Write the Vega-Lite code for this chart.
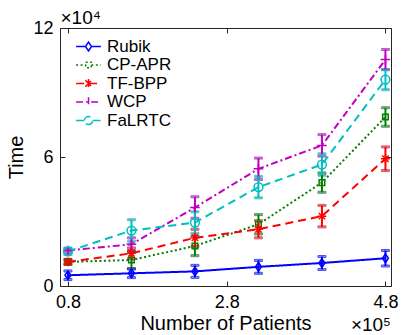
{
  "$schema": "https://vega.github.io/schema/vega-lite/v6.json",
  "width": 331,
  "height": 258,
  "autosize": {"type": "none"},
  "padding": {"left": 60, "top": 28, "right": 14, "bottom": 49},
  "background": "white",
  "config": {
    "font": "Liberation Sans",
    "view": {"stroke": null},
    "axis": {
      "domainColor": "#262626", "tickColor": "#262626", "labelColor": "black", "titleColor": "black",
      "labelFont": "Liberation Sans", "titleFont": "Liberation Sans",
      "labelFontSize": 18, "titleFontSize": 20, "titleFontWeight": "normal",
      "tickSize": -5, "grid": false, "domainWidth": 1, "tickWidth": 1, "labelPadding": 12
    }
  },
  "title": {"text": "×10⁵", "orient": "bottom", "anchor": "end", "frame": "group", "fontSize": 19, "fontWeight": "normal", "color": "black", "offset": -17},
  "data": {"values": [
    {"series": "Rubik", "x": 0.8, "y": 0.50, "lo": 0.30, "hi": 0.70},
    {"series": "Rubik", "x": 1.6, "y": 0.59, "lo": 0.39, "hi": 0.79},
    {"series": "Rubik", "x": 2.4, "y": 0.68, "lo": 0.40, "hi": 0.96},
    {"series": "Rubik", "x": 3.2, "y": 0.89, "lo": 0.59, "hi": 1.19},
    {"series": "Rubik", "x": 4.0, "y": 1.07, "lo": 0.77, "hi": 1.37},
    {"series": "Rubik", "x": 4.8, "y": 1.29, "lo": 0.93, "hi": 1.65},
    {"series": "CP-APR", "x": 0.8, "y": 1.12, "lo": 1.02, "hi": 1.22},
    {"series": "CP-APR", "x": 1.6, "y": 1.21, "lo": 0.81, "hi": 1.61},
    {"series": "CP-APR", "x": 2.4, "y": 1.86, "lo": 1.41, "hi": 2.31},
    {"series": "CP-APR", "x": 3.2, "y": 2.87, "lo": 2.42, "hi": 3.32},
    {"series": "CP-APR", "x": 4.0, "y": 4.81, "lo": 4.36, "hi": 5.26},
    {"series": "CP-APR", "x": 4.8, "y": 7.86, "lo": 7.43, "hi": 8.29},
    {"series": "TF-BPP", "x": 0.8, "y": 1.12, "lo": 1.00, "hi": 1.24},
    {"series": "TF-BPP", "x": 1.6, "y": 1.52, "lo": 1.27, "hi": 1.77},
    {"series": "TF-BPP", "x": 2.4, "y": 2.24, "lo": 1.84, "hi": 2.64},
    {"series": "TF-BPP", "x": 3.2, "y": 2.64, "lo": 2.24, "hi": 3.04},
    {"series": "TF-BPP", "x": 4.0, "y": 3.25, "lo": 2.75, "hi": 3.75},
    {"series": "TF-BPP", "x": 4.8, "y": 5.92, "lo": 5.37, "hi": 6.47},
    {"series": "WCP", "x": 0.8, "y": 1.65, "lo": 1.55, "hi": 1.75},
    {"series": "WCP", "x": 1.6, "y": 1.94, "lo": 1.64, "hi": 2.24},
    {"series": "WCP", "x": 2.4, "y": 3.65, "lo": 3.15, "hi": 4.15},
    {"series": "WCP", "x": 3.2, "y": 5.45, "lo": 4.95, "hi": 5.95},
    {"series": "WCP", "x": 4.0, "y": 6.54, "lo": 6.04, "hi": 7.04},
    {"series": "WCP", "x": 4.8, "y": 10.53, "lo": 10.06, "hi": 11.00},
    {"series": "FaLRTC", "x": 0.8, "y": 1.61, "lo": 1.46, "hi": 1.76},
    {"series": "FaLRTC", "x": 1.6, "y": 2.58, "lo": 2.08, "hi": 3.08},
    {"series": "FaLRTC", "x": 2.4, "y": 2.95, "lo": 2.45, "hi": 3.45},
    {"series": "FaLRTC", "x": 3.2, "y": 4.60, "lo": 4.10, "hi": 5.10},
    {"series": "FaLRTC", "x": 4.0, "y": 5.65, "lo": 5.15, "hi": 6.15},
    {"series": "FaLRTC", "x": 4.8, "y": 9.60, "lo": 9.13, "hi": 10.07}
  ]},
  "layer": [
    {
      "mark": {"type": "line", "strokeWidth": 2},
      "encoding": {
        "x": {"field": "x", "type": "quantitative", "scale": {"domain": [0.7, 4.87], "nice": false, "zero": false},
              "axis": {"orient": "bottom", "values": [0.8, 2.8, 4.8], "format": ".1f", "title": "Number of Patients", "titlePadding": 2}},
        "y": {"field": "y", "type": "quantitative", "scale": {"domain": [0, 12], "nice": false},
              "axis": {"orient": "left", "values": [0, 6, 12], "title": "Time", "titlePadding": 6}},
        "color": {"field": "series", "type": "nominal",
                  "scale": {"domain": ["Rubik", "CP-APR", "TF-BPP", "WCP", "FaLRTC"], "range": ["#0000ff", "#008000", "#ff0000", "#bf00bf", "#00bfbf"]},
                  "legend": {
                    "orient": "none", "legendX": 20, "legendY": 10, "title": null,
                    "labelFontSize": 17, "labelColor": "black", "labelFont": "Liberation Sans",
                    "symbolSize": 64, "labelOffset": 10, "rowPadding": 0.5, "padding": 0,
                    "symbolStrokeWidth": 1.5,
                    "encode": {"symbols": {"update": {
                      "shape": {"signal": "datum.value === 'Rubik' ? 'M-3.1,0L-0.75,0M0.75,0L3.1,0M0,-1.1L0.75,0L0,1.1L-0.75,0Z' : datum.value === 'CP-APR' ? 'M-3.1,0L-0.7,0M0.7,0L3.1,0M-0.7,-0.7L0.7,-0.7L0.7,0.7L-0.7,0.7Z' : datum.value === 'TF-BPP' ? 'M-3.1,0L3.1,0M0,-1.1L0,1.1M-0.8,-0.8L0.8,0.8M-0.8,0.8L0.8,-0.8' : datum.value === 'WCP' ? 'M-3.1,0L3.1,0M0,-1.2L0,1.2' : 'M-3.1,0L-1,0M1,0L3.1,0M-1,0A1,1,0,1,1,1,0A1,1,0,1,1,-1,0'"},
                      "strokeDash": {"signal": "datum.value === 'CP-APR' ? [1.5, 2] : datum.value === 'TF-BPP' ? [6, 3] : datum.value === 'WCP' ? [6, 2, 1.5, 2] : datum.value === 'FaLRTC' ? [6, 3] : [1, 0]"},
                      "fill": {"value": "transparent"},
                      "stroke": {"scale": "color", "field": "value"},
                      "strokeWidth": {"value": 1.5},
                      "opacity": {"value": 1}
                    }}}
                  }},
        "strokeDash": {"field": "series", "type": "nominal",
                       "scale": {"domain": ["Rubik", "CP-APR", "TF-BPP", "WCP", "FaLRTC"], "range": [[1, 0], [2, 2.5], [8, 5], [7, 3, 2, 3], [8, 5]]},
                       "legend": null}
      }
    },
    {
      "mark": {"type": "errorbar", "ticks": {"size": 8}, "thickness": 2},
      "encoding": {
        "x": {"field": "x", "type": "quantitative",
              "axis": {"orient": "top", "values": [0.8, 2.8, 4.8], "labels": false, "title": "×10⁴", "titleAnchor": "start", "titleAlign": "left", "titlePadding": 0, "titleFontSize": 19}},
        "y": {"field": "lo", "type": "quantitative",
              "axis": {"orient": "right", "values": [0, 6, 12], "labels": false, "title": null}},
        "y2": {"field": "hi"},
        "stroke": {"field": "series", "type": "nominal",
                   "scale": {"domain": ["Rubik", "CP-APR", "TF-BPP", "WCP", "FaLRTC"], "range": ["#0000ff", "#008000", "#ff0000", "#bf00bf", "#00bfbf"]},
                   "legend": null}
      }
    },
    {
      "transform": [{"filter": "datum.series === 'Rubik'"}],
      "mark": {"type": "point", "filled": false, "strokeWidth": 1.5, "size": 64, "opacity": 1, "shape": "M0,-1.1L0.75,0L0,1.1L-0.75,0Z"},
      "encoding": {
        "x": {"field": "x", "type": "quantitative", "axis": null},
        "y": {"field": "y", "type": "quantitative", "axis": null},
        "stroke": {"field": "series", "type": "nominal", "legend": null}
      }
    },
    {
      "transform": [{"filter": "datum.series === 'CP-APR'"}],
      "mark": {"type": "point", "filled": false, "strokeWidth": 1.5, "size": 64, "opacity": 1, "shape": "M-0.7,-0.7L0.7,-0.7L0.7,0.7L-0.7,0.7Z"},
      "encoding": {
        "x": {"field": "x", "type": "quantitative", "axis": null},
        "y": {"field": "y", "type": "quantitative", "axis": null},
        "stroke": {"field": "series", "type": "nominal", "legend": null}
      }
    },
    {
      "transform": [{"filter": "datum.series === 'TF-BPP'"}],
      "mark": {"type": "point", "filled": false, "strokeWidth": 1.5, "size": 64, "opacity": 1, "shape": "M-1.1,0L1.1,0M0,-1.1L0,1.1M-0.8,-0.8L0.8,0.8M-0.8,0.8L0.8,-0.8"},
      "encoding": {
        "x": {"field": "x", "type": "quantitative", "axis": null},
        "y": {"field": "y", "type": "quantitative", "axis": null},
        "stroke": {"field": "series", "type": "nominal", "legend": null}
      }
    },
    {
      "transform": [{"filter": "datum.series === 'WCP'"}],
      "mark": {"type": "point", "filled": false, "strokeWidth": 1.5, "size": 64, "opacity": 1, "shape": "M-1.2,0L1.2,0M0,-1.2L0,1.2"},
      "encoding": {
        "x": {"field": "x", "type": "quantitative", "axis": null},
        "y": {"field": "y", "type": "quantitative", "axis": null},
        "stroke": {"field": "series", "type": "nominal", "legend": null}
      }
    },
    {
      "transform": [{"filter": "datum.series === 'FaLRTC'"}],
      "mark": {"type": "point", "filled": false, "strokeWidth": 1.5, "size": 64, "opacity": 1, "shape": "M-1.1,0A1.1,1.1,0,1,1,1.1,0A1.1,1.1,0,1,1,-1.1,0"},
      "encoding": {
        "x": {"field": "x", "type": "quantitative", "axis": null},
        "y": {"field": "y", "type": "quantitative", "axis": null},
        "stroke": {"field": "series", "type": "nominal", "legend": null}
      }
    }
  ],
  "resolve": {"axis": {"x": "independent", "y": "independent"}}
}
